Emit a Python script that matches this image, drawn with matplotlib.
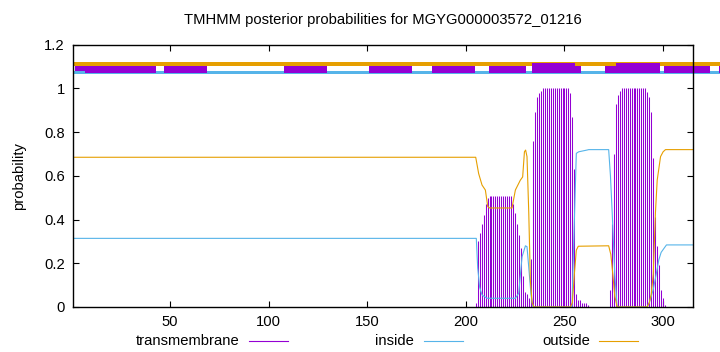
import matplotlib
matplotlib.use("Agg")
import matplotlib.pyplot as plt
from matplotlib.lines import Line2D
from matplotlib.patches import Rectangle

plt.rcParams['font.family'] = ['Liberation Sans', 'DejaVu Sans']

TITLE = "TMHMM posterior probabilities for MGYG000003572_01216"
SEQ_LEN = 315

# transmembrane posterior per residue (residues 204..302; zero elsewhere)
tm_residues = list(range(204, 303))
tm_values = [
    0.00, 0.02, 0.30, 0.34, 0.38, 0.42, 0.47, 0.50, 0.51,
    0.51, 0.51, 0.51, 0.51, 0.51, 0.51, 0.51, 0.51, 0.51, 0.51, 0.51,
    0.47, 0.43, 0.38, 0.33, 0.27, 0.14, 0.07, 0.06, 0.04, 0.22, 0.76, 0.89, 0.96, 0.98, 0.99,
    1.00, 1.00, 1.00, 1.00, 1.00, 1.00, 1.00, 1.00, 1.00, 1.00, 1.00, 1.00, 1.00, 1.00,
    0.98, 0.87, 0.63, 0.06, 0.03, 0.03, 0.02, 0.02, 0.02, 0.01,
    0.00, 0.00, 0.00, 0.00, 0.00, 0.00, 0.00, 0.00, 0.00, 0.00,
    0.08, 0.38, 0.70, 0.93, 0.97, 0.99,
    1.00, 1.00, 1.00, 1.00, 1.00, 1.00, 1.00, 1.00, 1.00, 1.00, 1.00, 1.00, 1.00,
    0.985, 0.96, 0.89, 0.68, 0.41, 0.28, 0.19, 0.08, 0.04, 0.01, 0.00,
]

outside_x = [1, 205, 206.5, 208.2, 209.9, 211.1, 212.1, 223.4, 225.1, 227.6, 228.8, 229.7,
             230.3, 231, 231.9, 232.7, 233.6, 234.5, 253, 254, 255, 256, 257, 272.4, 273.5,
             274.5, 275.5, 276.7, 291.9, 293, 294, 295, 296.1, 297, 298.7, 300, 301.2, 315]
outside_y = [0.685, 0.685, 0.61, 0.558, 0.535, 0.459, 0.453, 0.453, 0.535, 0.58, 0.595, 0.71,
             0.718, 0.688, 0.43, 0.12, 0.02, 0.0, 0.0, 0.02, 0.15, 0.26, 0.278, 0.28, 0.24,
             0.15, 0.05, 0.0, 0.0, 0.02, 0.06, 0.15, 0.43, 0.58, 0.688, 0.71, 0.72, 0.72]

inside_x = [1, 205.3, 206, 207, 208.2, 210.7, 225.1, 226.8, 228.5, 230.2, 231, 231.9, 233, 234,
            253.8, 254.7, 256, 257.2, 261.4, 262.3, 272.4, 273.3, 274.2, 275.5, 276.7, 291.9,
            293, 295, 296.5, 297.8, 299, 301.7, 315]
inside_y = [0.314, 0.314, 0.18, 0.09, 0.055, 0.04, 0.04, 0.063, 0.23, 0.28, 0.276, 0.18, 0.06, 0.0,
            0.0, 0.3, 0.703, 0.71, 0.718, 0.72, 0.72, 0.6, 0.43, 0.15, 0.0, 0.0,
            0.02, 0.08, 0.15, 0.215, 0.25, 0.284, 0.284]

# top summary strip (segments in residue coordinates)
strip_tm_short = [(1.9, 43.0), (47.2, 68.7), (107.9, 129.6), (150.9, 172.6), (182.6, 204.4),
                  (211.6, 230.5), (255.5, 258.5), (270.3, 276.3), (300.4, 324.0), (328.2, 345)]
strip_tm_tall = [(233.6, 255.5), (276.3, 298.3)]
strip_outside = (1, 345)
strip_inside = [(1, 345)]
strip_inside_top = [(1, 7)]

C_TM = '#9400d3'
C_IN = '#56b4e9'
C_OUT = '#e69f00'
FS = 10.6

fig = plt.figure(figsize=(7.2, 3.52), dpi=100)
ax = fig.add_axes([73.3 / 720, 1 - 307 / 352, (692.7 - 73.3) / 720, (307 - 44.7) / 352])

ax.vlines(tm_residues, 0, tm_values, color=C_TM, linewidth=0.75)
ax.plot(inside_x, inside_y, color=C_IN, linewidth=0.8)
ax.plot(outside_x, outside_y, color=C_OUT, linewidth=0.8)

# strip
for a, b in strip_inside:
    ax.add_patch(Rectangle((a, 1.066), b - a, 0.013, color=C_IN, lw=0, clip_on=False, zorder=3))
ax.add_patch(Rectangle((strip_outside[0], 1.104), strip_outside[1] - strip_outside[0], 0.017,
                       color=C_OUT, lw=0, clip_on=False, zorder=3))
for a, b in strip_tm_short:
    ax.add_patch(Rectangle((a, 1.069), b - a, 0.035, color=C_TM, lw=0, clip_on=False, zorder=4))
for a, b in strip_tm_tall:
    ax.add_patch(Rectangle((a, 1.069), b - a, 0.0486, color=C_TM, lw=0, clip_on=False, zorder=4))
for a, b in strip_inside_top:
    ax.add_patch(Rectangle((a, 1.066), b - a, 0.013, color=C_IN, lw=0, clip_on=False, zorder=5))

ax.set_xlim(1, SEQ_LEN)
ax.set_ylim(0, 1.2)
ax.set_xticks([50, 100, 150, 200, 250, 300])
ax.set_yticks([0, 0.2, 0.4, 0.6, 0.8, 1.0, 1.2])
ax.set_yticklabels(['0', '0.2', '0.4', '0.6', '0.8', '1', '1.2'])
ax.tick_params(direction='in', length=4, width=0.8, top=True, right=True, labelsize=FS,
               colors='black', pad=6)
for s in ax.spines.values():
    s.set_linewidth(1.0)
    s.set_color('black')
    s.set_zorder(6)
ax.set_ylabel('probability', fontsize=FS, labelpad=13)
fig.text(383 / 720, 1 - 20 / 352, TITLE, ha='center', va='center', fontsize=FS)

# legend
leg_y = 1 - 341 / 352
items = [("transmembrane", 240, 249, 288, C_TM), ("inside", 414, 424, 463, C_IN),
         ("outside", 590, 599, 638, C_OUT)]
for label, tx, l0, l1, c in items:
    fig.text(tx / 720, leg_y, label, ha='right', va='center', fontsize=FS)
    fig.add_artist(Line2D([l0 / 720, l1 / 720], [leg_y, leg_y], color=c, linewidth=0.8,
                          transform=fig.transFigure))

fig.savefig('out.png', dpi=100)
